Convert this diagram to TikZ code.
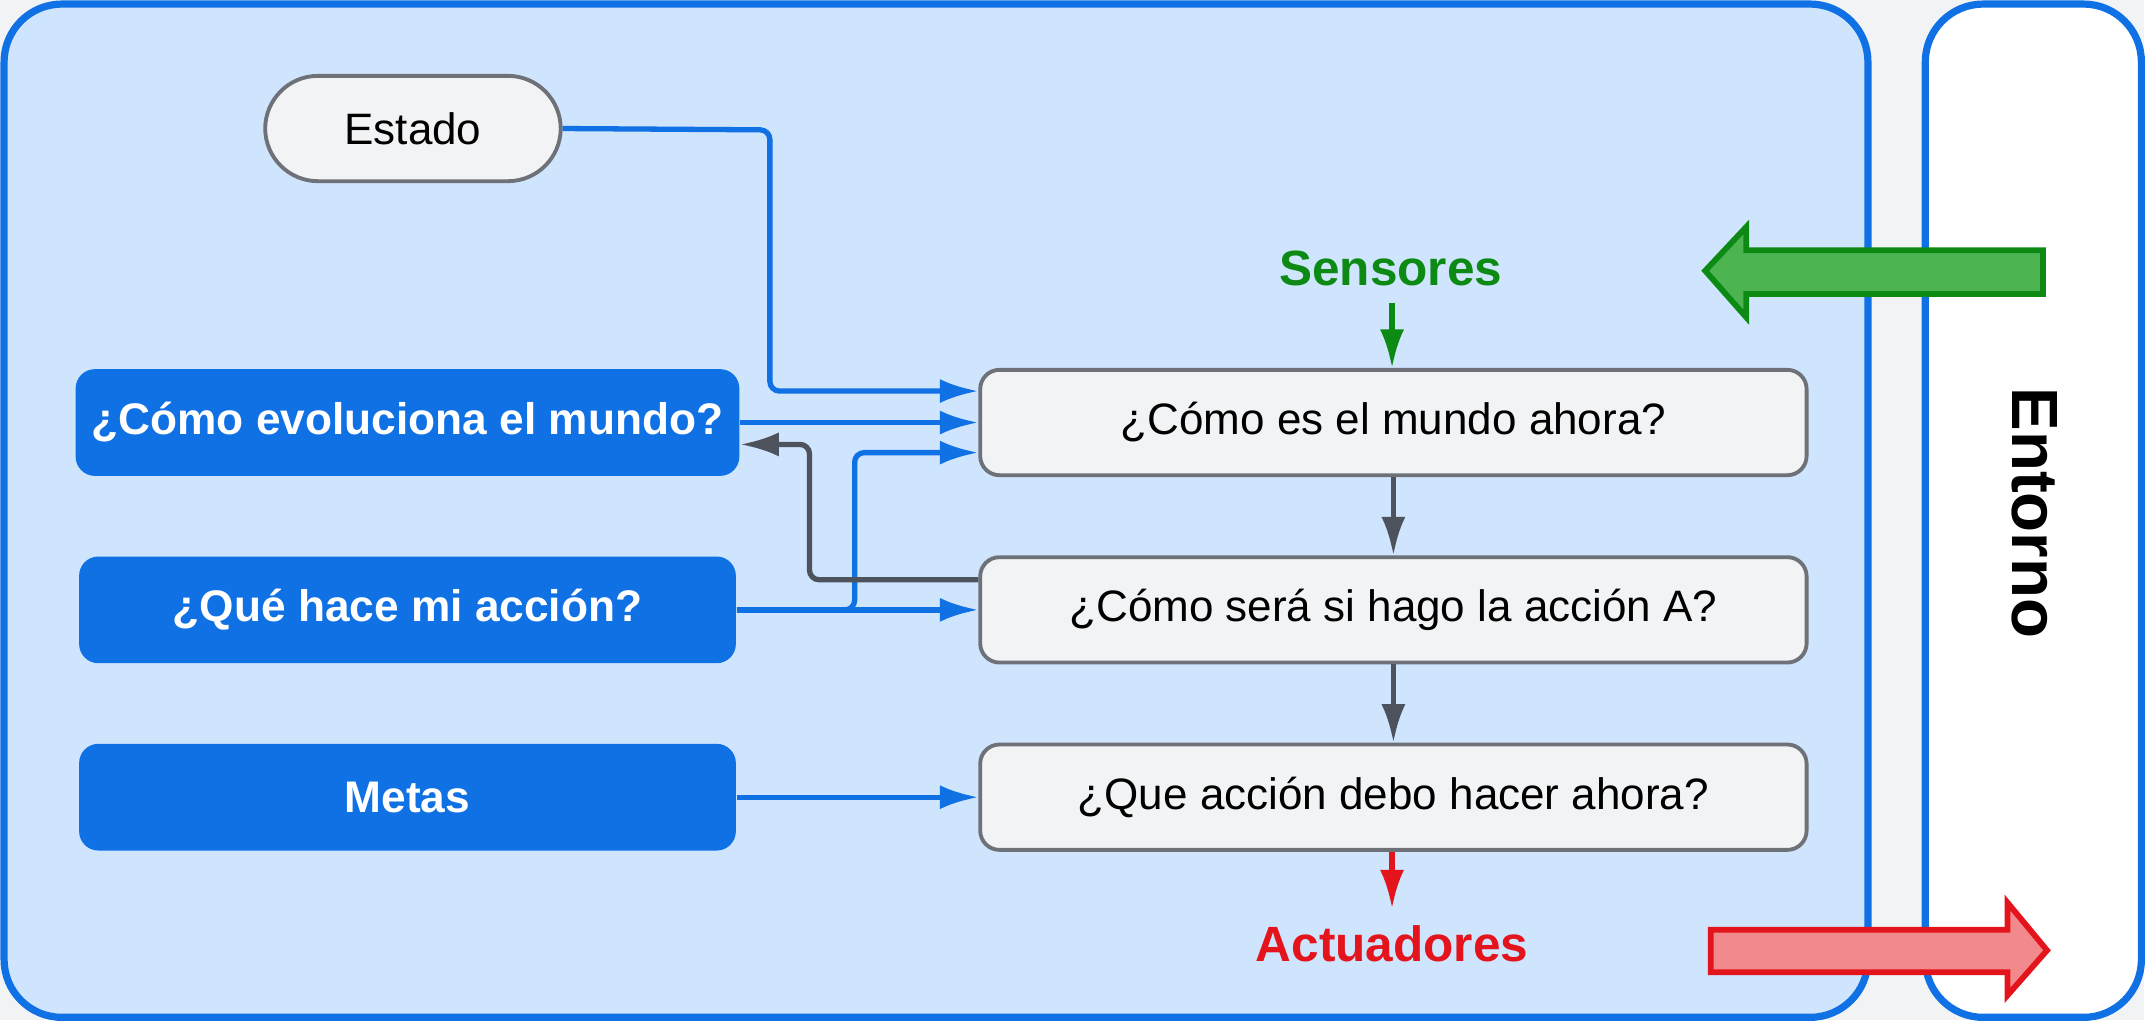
\documentclass[tikz,border=0pt]{standalone}
\usepackage{fontspec}
\setmainfont{Liberation Sans}
\usetikzlibrary{arrows.meta}
\definecolor{azul}{HTML}{1071E5}
\definecolor{celeste}{HTML}{CFE4FD}
\definecolor{gris}{HTML}{F1F3F5}
\definecolor{borde}{HTML}{6E7178}
\definecolor{oscuro}{HTML}{4D535C}
\definecolor{verde}{HTML}{0C8A14}
\definecolor{rojo}{HTML}{E3141B}
\tikzset{
 pregunta/.style={draw=borde, line width=.8pt, fill=gris, rounded corners=4pt, minimum width=6.04cm, minimum height=.77cm, font=\fontsize{9.15}{11}\selectfont},
 conocimiento/.style={fill=azul, rounded corners=4pt, minimum width=4.8cm, minimum height=.78cm, text=white, font=\bfseries\fontsize{9.2}{11}\selectfont},
 flecha/.style={-{Latex[length=8pt,width=5pt]}, line width=1.1pt, rounded corners=2pt},
}
\begin{document}
\begin{tikzpicture}[x=0.01cm,y=-0.01cm]
%\draw[help lines] (0,0) grid (1568,746);
 \fill[gris] (0,0) rectangle (1568,746);
 \draw[azul, line width=1.5pt, fill=celeste, rounded corners=12pt] (3,3) rectangle (1366,744);
 \draw[azul, line width=1.5pt, fill=white, rounded corners=12pt] (1408,3) rectangle (1566,744);
 \node[rotate=-90, font=\bfseries\fontsize{13.6}{16}\selectfont] (entorno) at (1488,375) {Entorno};

 \node[draw=borde, line width=.8pt, fill=gris, rounded corners=11pt, minimum width=2.16cm, minimum height=.77cm, font=\fontsize{9.15}{11}\selectfont] (estado) at (302,94) {Estado};

 \node[conocimiento] (evoluciona) at (298,309) {¿Cómo evoluciona el mundo?};
 \node[conocimiento] (accion) at (298,446) {¿Qué hace mi acción?};
 \node[conocimiento] (metas) at (298,583) {Metas};

 \node[pregunta] (ahora) at (1019,309) {¿Cómo es el mundo ahora?};
 \node[pregunta] (sera) at (1019,446) {¿Cómo será si hago la acción A?};
 \node[pregunta] (debo) at (1019,583) {¿Que acción debo hacer ahora?};

 \node[text=verde, font=\bfseries\fontsize{10.3}{12}\selectfont] (sensores) at (1017,196) {Sensores};
 \node[text=rojo, font=\bfseries\fontsize{10.3}{12}\selectfont] (actuadores) at (1018,690) {Actuadores};

 % flechas grandes
 \draw[verde, line width=1.2pt, fill=verde!70!white!90!green] (1494,183) -- (1277,183) -- (1277,166) -- (1247,198) -- (1277,232) -- (1277,215) -- (1494,215) -- cycle;
 \draw[rojo, line width=1.2pt, fill=rojo!50!white] (1251,680) -- (1468,680) -- (1468,660) -- (1497,695) -- (1468,728) -- (1468,711) -- (1251,711) -- cycle;

 \draw[flecha, verde] (sensores.south -| 1018,0) -- (ahora.north -| 1018,0);
 \draw[flecha, rojo] (debo.south -| 1018,0) -- (actuadores.north -| 1018,0);
 \draw[flecha, oscuro] (ahora.south) -- (sera.north);
 \draw[flecha, oscuro] (sera.south) -- (debo.north);

 \draw[flecha, azul] (estado.east) -- (563,95) -- (563,286) -- (ahora.west |- 0,286);
 \draw[flecha, azul] (evoluciona.east) -- (ahora.west);
 \draw[flecha, azul] (accion.east) -- (625,446) -- (625,331) -- (ahora.west |- 0,331);
 \draw[flecha, azul] (accion.east) -- (sera.west);
 \draw[flecha, azul] (metas.east) -- (debo.west);
 \draw[flecha, oscuro] (sera.west |- 0,424) -- (592,424) -- (592,325) -- (evoluciona.east |- 0,325);
\end{tikzpicture}
\end{document}
